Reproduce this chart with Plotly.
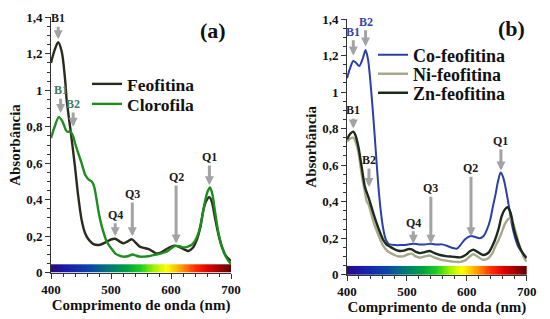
import plotly.graph_objects as go
import numpy as np

# ---------------- data ----------------
feo_wl = [400, 406, 412, 418, 424, 426, 433, 440, 445, 451, 457, 463, 470, 480, 490, 500, 507, 514, 521, 528,
          535, 541, 548, 555, 562, 569, 576, 583, 590, 597, 604, 610, 615, 622, 629, 636, 643, 649, 654, 659,
          664, 668, 673, 679, 685, 691, 698, 700]
feo_abs = [1.15, 1.22, 1.263, 1.21, 1.04, 0.95, 0.77, 0.58, 0.43, 0.29, 0.215, 0.18, 0.158, 0.152, 0.165, 0.182,
           0.186, 0.172, 0.161, 0.172, 0.183, 0.165, 0.143, 0.136, 0.13, 0.118, 0.106, 0.11, 0.125, 0.138, 0.147,
           0.146, 0.139, 0.128, 0.119, 0.135, 0.18, 0.25, 0.344, 0.395, 0.414, 0.39, 0.307, 0.21, 0.14, 0.095,
           0.07, 0.065]

clo_wl = [400, 406, 413, 419, 425, 428, 432, 436, 441, 446, 451, 457, 463, 468, 472, 476, 480, 485, 493, 500,
          507, 514, 520, 528, 536, 542, 548, 555, 562, 569, 576, 583, 590, 597, 603, 608, 614, 620, 627, 634,
          640, 646, 651, 656, 661, 665, 669, 673, 679, 685, 691, 698, 700]
clo_abs = [0.738, 0.80, 0.853, 0.83, 0.78, 0.772, 0.774, 0.755, 0.70, 0.65, 0.60, 0.537, 0.51, 0.50, 0.47, 0.40,
           0.32, 0.25, 0.17, 0.135, 0.106, 0.093, 0.088, 0.09, 0.10, 0.093, 0.088, 0.088, 0.09, 0.095, 0.10,
           0.105, 0.112, 0.125, 0.14, 0.147, 0.145, 0.139, 0.142, 0.152, 0.175, 0.22, 0.29, 0.38, 0.445, 0.467,
           0.43, 0.344, 0.22, 0.14, 0.09, 0.055, 0.05]

co_wl = [400, 405, 410.5, 415, 420.5, 426, 431, 435, 439, 444, 448, 452, 456, 460, 465, 470, 480, 490, 500, 510,
         520, 530, 540, 550, 558, 565, 575, 583, 590, 596, 602, 608, 615, 622, 628, 634, 639, 644, 648, 652,
         656.5, 661, 666.5, 671, 675, 680, 686, 693, 700]
co_abs = [1.075, 1.13, 1.17, 1.16, 1.143, 1.18, 1.23, 1.18, 1.06, 0.86, 0.68, 0.50, 0.36, 0.26, 0.19, 0.168,
          0.162, 0.162, 0.164, 0.17, 0.166, 0.166, 0.169, 0.165, 0.166, 0.16, 0.148, 0.142, 0.165, 0.19, 0.206,
          0.212, 0.205, 0.20, 0.212, 0.25, 0.30, 0.38, 0.44, 0.51, 0.559, 0.53, 0.446, 0.36, 0.28, 0.21, 0.153,
          0.12, 0.095]

zn_wl = [400, 405, 410.5, 415, 419, 424.5, 430, 435.5, 440, 444, 452.5, 460.5, 466, 472, 479, 486, 495, 502, 508,
         515, 522, 530, 538, 546, 555, 565, 575, 589, 598, 605, 611, 618, 627, 636, 643, 647, 653, 658, 663,
         668, 673, 679, 684, 689, 695, 700]
zn_abs = [0.741, 0.77, 0.783, 0.755, 0.70, 0.59, 0.48, 0.427, 0.38, 0.336, 0.254, 0.19, 0.165, 0.153, 0.14,
          0.131, 0.132, 0.14, 0.139, 0.125, 0.118, 0.124, 0.13, 0.118, 0.108, 0.102, 0.099, 0.095, 0.108, 0.128,
          0.137, 0.125, 0.108, 0.12, 0.16, 0.19, 0.25, 0.318, 0.355, 0.369, 0.34, 0.245, 0.19, 0.145, 0.11, 0.09]

ni_wl = [400, 405, 410.5, 415, 419, 424.5, 430, 433, 436, 440, 444, 452, 460, 466, 472, 479, 486, 495, 502, 508,
         515, 522, 530, 538, 546, 555, 565, 575, 589, 598, 605, 611, 618, 627, 636, 643, 647, 653, 658, 664,
         671, 676, 681, 686, 691, 696, 700]
ni_abs = [0.728, 0.745, 0.75, 0.72, 0.67, 0.55, 0.45, 0.40, 0.385, 0.34, 0.29, 0.22, 0.16, 0.135, 0.12, 0.108,
          0.10, 0.102, 0.112, 0.115, 0.10, 0.093, 0.10, 0.105, 0.093, 0.084, 0.077, 0.072, 0.07, 0.08, 0.10,
          0.112, 0.10, 0.082, 0.09, 0.12, 0.15, 0.19, 0.23, 0.28, 0.309, 0.29, 0.24, 0.18, 0.13, 0.09, 0.07]

series_names_a = ["Feofitina", "Clorofila"]
series_names_b = ["Co-feofitina", "Ni-feofitina", "Zn-feofitina"]

# band labels: (label, wavelength, head absorbance, label absorbance, colour)
bands_a = [("B1", 412, 1.28, 1.395, "#1a1a1a"),
           ("B1", 416, 0.875, 1.0, "#3d7a6a"),
           ("B2", 437, 0.80, 0.925, "#3d7a6a"),
           ("Q4", 507, 0.20, 0.317, "#1a1a1a"),
           ("Q3", 535.5, 0.20, 0.432, "#1a1a1a"),
           ("Q2", 608.5, 0.16, 0.524, "#1a1a1a"),
           ("Q1", 664, 0.48, 0.634, "#1a1a1a")]
bands_b = [("B1", 410.5, 1.20, 1.33, "#3344aa"),
           ("B2", 431, 1.25, 1.385, "#3344aa"),
           ("B1", 410.5, 0.80, 0.90, "#1a1a1a"),
           ("B2", 436.7, 0.48, 0.628, "#1a1a1a"),
           ("Q4", 510.7, 0.17, 0.285, "#1a1a1a"),
           ("Q3", 540, 0.17, 0.473, "#1a1a1a"),
           ("Q2", 607, 0.21, 0.583, "#1a1a1a"),
           ("Q1", 657, 0.57, 0.732, "#1a1a1a")]

y_ticks = [0, 0.2, 0.4, 0.6, 0.8, 1.0, 1.2, 1.4]
x_ticks = [400, 500, 600, 700]

# ---------------- figure ----------------
FONT = "Liberation Serif"
W, H = 550, 319
fig = go.Figure()

spectrum_scale = [[0.0, "#2a0a80"], [0.08, "#1a1aa8"], [0.22, "#0a46a8"], [0.32, "#007878"],
                  [0.42, "#00a040"], [0.5, "#20d020"], [0.57, "#a0f000"], [0.64, "#ffff00"],
                  [0.72, "#ffa000"], [0.8, "#ff3000"], [0.87, "#e00000"], [1.0, "#600000"]]
edges = np.linspace(400, 700, 151)
centers = (edges[:-1] + edges[1:]) / 2

for xa, ya, top in [("x", "y", 0.046), ("x2", "y2", 0.048)]:
    fig.add_trace(go.Heatmap(x=edges, y=[0, top], z=[centers], zmin=400, zmax=700,
                             colorscale=spectrum_scale, showscale=False, hoverinfo="skip",
                             xaxis=xa, yaxis=ya))

line_kw = dict(shape="spline", smoothing=0.8)
traces = [
    (feo_wl, feo_abs, series_names_a[0], "#2b2a1c", 2.4, "x", "y"),
    (clo_wl, clo_abs, series_names_a[1], "#1f8c1f", 2.4, "x", "y"),
    (co_wl, co_abs, series_names_b[0], "#2a40a8", 2.0, "x2", "y2"),
    (ni_wl, ni_abs, series_names_b[1], "#a8a88a", 2.4, "x2", "y2"),
    (zn_wl, zn_abs, series_names_b[2], "#1c2a1c", 2.4, "x2", "y2"),
]
legend_ids = ["legend", "legend2", "legend3", "legend4", "legend5"]
for (wl, ab, nm, col, w, xa, ya), lid in zip(traces, legend_ids):
    fig.add_trace(go.Scatter(x=wl, y=ab, mode="lines", name=nm, line=dict(color=col, width=w, **line_kw),
                             xaxis=xa, yaxis=ya, legend=lid))

annotations = []
for bands, xr, yr in [(bands_a, "x", "y"), (bands_b, "x2", "y2")]:
    for lab, wl, head, ltxt, col in bands:
        annotations.append(dict(x=wl, y=head, xref=xr, yref=yr, ax=wl, ay=ltxt, axref=xr, ayref=yr,
                                text=lab, showarrow=True, arrowhead=2, arrowsize=0.6,
                                arrowwidth=3, arrowcolor="#a3a3a3", standoff=0, startstandoff=0,
                                font=dict(family=FONT, size=12, color=col, weight="bold")))

for txt, px, py in [("(a)", 213, 31), ("(b)", 511, 28)]:
    annotations.append(dict(x=px / W, y=1 - py / H, xref="paper", yref="paper", text=txt,
                            xanchor="center", yanchor="middle", showarrow=False,
                            font=dict(family=FONT, size=22, color="#111", weight="bold")))

def xaxis(domain, anchor):
    return dict(domain=domain, anchor=anchor, range=[400, 700], tickvals=x_ticks, automargin=False,
                ticks="outside", ticklen=5, tickwidth=1,
                tickcolor="#333", showline=True, linecolor="#333", linewidth=1, showgrid=False, zeroline=False,
                minor=dict(dtick=20, ticks="outside", ticklen=3, tickcolor="#333"),
                tickfont=dict(family=FONT, size=13, color="#111", weight="bold"),
                title=dict(text="Comprimento de onda (nm)",
                           font=dict(family=FONT, size=15, color="#111", weight="bold"), standoff=1))

def yaxis(domain, anchor):
    return dict(domain=domain, anchor=anchor, range=[0, 1.4], tickvals=y_ticks, automargin=False,
                ticks="outside", ticklen=5, tickwidth=1, tickcolor="#333", showline=True, linecolor="#333",
                linewidth=1, showgrid=False, zeroline=False,
                minor=dict(dtick=0.05, ticks="outside", ticklen=3, tickcolor="#333"),
                tickfont=dict(family=FONT, size=13, color="#111", weight="bold"),
                title=dict(text="Absorbância", font=dict(family=FONT, size=15, color="#111", weight="bold"),
                           standoff=1))

# legend rows: (text start x px, row centre y px, font size)
legend_pos = [(128, 84, 17.5), (128, 104, 17.5), (414, 55, 18), (414, 74, 18), (414, 93, 18)]
legends = {}
for lid, (tx, ty, fs) in zip(legend_ids, legend_pos):
    legends[lid] = dict(x=(tx - 41) / W, y=1 - ty / H, xanchor="left", yanchor="middle",
                        bgcolor="rgba(0,0,0,0)", itemwidth=30,
                        font=dict(family=FONT, size=fs, color="#111", weight="bold"))

fig.update_layout(
    width=W, height=H, margin=dict(l=0, r=0, t=0, b=0, autoexpand=False),
    paper_bgcolor="white", plot_bgcolor="white", separators=",.",
    xaxis=xaxis([51 / W, 231 / W], "y"),
    yaxis=yaxis([1 - 272.7 / H, 1 - 17.3 / H], "x"),
    xaxis2=xaxis([347 / W, 526.7 / W], "y2"),
    yaxis2=yaxis([1 - 274.7 / H, 1 - 19 / H], "x2"),
    annotations=annotations,
    showlegend=True,
    **legends,
)

fig.write_html("out.html", config={"displayModeBar": False},
               post_script="document.body.style.margin='0';document.body.style.overflow='hidden';")
